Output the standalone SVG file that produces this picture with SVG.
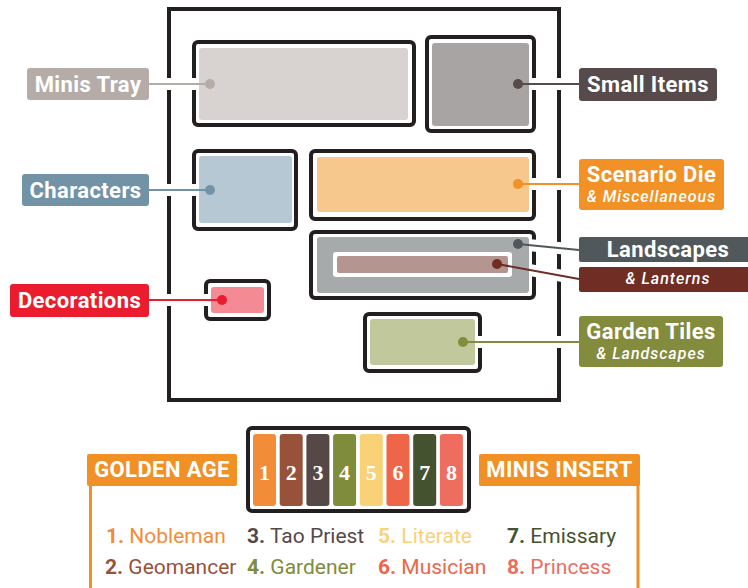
<svg xmlns="http://www.w3.org/2000/svg" width="748" height="588" viewBox="0 0 748 588">
<style>
.frame{fill:none;stroke:#231f20;stroke-width:4}
.box{fill:#fff;stroke:#231f20;stroke-width:4}
.halo{stroke:#fff;stroke-width:12;fill:none}
.lbl{font-family:Roboto,"Liberation Sans",sans-serif;font-weight:700;fill:#fff}
.big{font-size:22px;letter-spacing:0.4px}
.sub{font-size:16px;font-style:italic;font-weight:500;letter-spacing:1px}
.num{font-family:"Liberation Serif",serif;font-weight:700;font-size:22px;fill:#fff;text-anchor:middle}
.leg{font-family:Roboto,"Liberation Sans",sans-serif;font-size:21px}
.leg .b{font-weight:700}
</style>
<rect width="748" height="588" fill="#fff"/>
<rect class="frame" x="169" y="9" width="390" height="391"/>
<g id="box-borders">
<rect class="box" x="194" y="42" width="220" height="83" rx="4"/>
<rect class="box" x="427" y="37" width="107" height="94" rx="4"/>
<rect class="box" x="194" y="151" width="102" height="78" rx="4"/>
<rect class="box" x="311" y="151" width="223" height="68" rx="4"/>
<rect class="box" x="311" y="232" width="223" height="66" rx="4"/>
<rect class="box" x="206" y="281" width="63" height="38" rx="4"/>
<rect class="box" x="365" y="314" width="115" height="57" rx="4"/>
</g>
<g id="halos">
<line class="halo" x1="149" y1="84" x2="210" y2="84"/>
<line class="halo" x1="149" y1="190" x2="210" y2="190"/>
<line class="halo" x1="149" y1="300" x2="222" y2="300"/>
<line class="halo" x1="518" y1="84" x2="579" y2="84"/>
<line class="halo" x1="518" y1="184" x2="579" y2="184"/>
<line class="halo" x1="518" y1="244" x2="579" y2="250"/>
<line class="halo" x1="497" y1="264" x2="579" y2="279"/>
<line class="halo" x1="463" y1="342" x2="579" y2="342"/>
</g>
<g id="minis-tray">
<rect x="199" y="48" width="209" height="72" rx="3" fill="#d8d3d1"/>
<rect x="27" y="68" width="122" height="32" rx="3" fill="#b5aca8"/>
<text class="lbl big" x="88" y="92" text-anchor="middle">Minis Tray</text>
</g>
<g id="small-items">
<rect x="432" y="43" width="97" height="83" rx="3" fill="#a9a4a4"/>
<rect x="579" y="68" width="138" height="33" rx="3" fill="#574a4a"/>
<text class="lbl big" x="648" y="92" text-anchor="middle">Small Items</text>
</g>
<g id="characters">
<rect x="199" y="156" width="93" height="67" rx="3" fill="#b6c8d3"/>
<rect x="22" y="174" width="127" height="32" rx="3" fill="#7292a5"/>
<text class="lbl big" x="85.5" y="198" text-anchor="middle">Characters</text>
</g>
<g id="scenario-die">
<rect x="317" y="157" width="212" height="55" rx="3" fill="#f6c88e"/>
<rect x="579" y="159" width="145" height="51" rx="3" fill="#f19126"/>
<text class="lbl big" x="651.5" y="182" text-anchor="middle">Scenario Die</text>
<text class="lbl sub" x="651.5" y="202" text-anchor="middle">&amp; Miscellaneous</text>
</g>
<g id="landscapes">
<rect x="317" y="237" width="212" height="56" rx="3" fill="#a6aaab"/>
<rect x="579" y="237" width="175" height="25" rx="2" fill="#51585b"/>
<text class="lbl big" x="668" y="257" text-anchor="middle">Landscapes</text>
</g>
<g id="lanterns">
<rect x="333" y="252" width="179" height="25" rx="3" fill="#fff"/>
<rect x="337" y="256" width="171" height="17" rx="2" fill="#b5958f"/>
<rect x="579" y="267" width="175" height="25" rx="2" fill="#6f2d23"/>
<text class="lbl sub" x="668" y="284" text-anchor="middle">&amp; Lanterns</text>
</g>
<g id="decorations">
<rect x="211" y="287" width="53" height="26" rx="3" fill="#f48a94"/>
<rect x="10" y="284" width="139" height="33" rx="3" fill="#ea1c2d"/>
<text class="lbl big" x="79.5" y="308" text-anchor="middle">Decorations</text>
</g>
<g id="garden-tiles">
<rect x="370" y="319" width="105" height="46" rx="3" fill="#c1c89c"/>
<rect x="579" y="316" width="144" height="51" rx="3" fill="#838b3c"/>
<text class="lbl big" x="651" y="339" text-anchor="middle">Garden Tiles</text>
<text class="lbl sub" x="651" y="359" text-anchor="middle">&amp; Landscapes</text>
</g>
<g id="connectors" stroke-width="2" fill="none">
<line x1="149" y1="84" x2="210" y2="84" stroke="#b5aca8"/>
<circle cx="210" cy="84" r="5" fill="#b5aca8" stroke="none"/>
<line x1="149" y1="190" x2="210" y2="190" stroke="#7292a5"/>
<circle cx="210" cy="190" r="5" fill="#7292a5" stroke="none"/>
<line x1="149" y1="300" x2="222" y2="300" stroke="#ea1c2d"/>
<circle cx="222" cy="300" r="5" fill="#ea1c2d" stroke="none"/>
<line x1="518" y1="84" x2="579" y2="84" stroke="#574a4a"/>
<circle cx="518" cy="84" r="5" fill="#574a4a" stroke="none"/>
<line x1="518" y1="184" x2="579" y2="184" stroke="#f19126"/>
<circle cx="518" cy="184" r="5" fill="#f19126" stroke="none"/>
<line x1="518" y1="244" x2="579" y2="250" stroke="#51585b"/>
<circle cx="518" cy="244" r="5" fill="#51585b" stroke="none"/>
<line x1="497" y1="264" x2="579" y2="279" stroke="#6f2d23"/>
<circle cx="497" cy="264" r="5" fill="#6f2d23" stroke="none"/>
<line x1="463" y1="342" x2="579" y2="342" stroke="#838b3c"/>
<circle cx="463" cy="342" r="5" fill="#838b3c" stroke="none"/>
</g>
<g id="minis-insert-box">
<rect class="box" x="248" y="428" width="221" height="83" rx="4"/>
<rect x="253" y="434" width="23" height="72" rx="3" fill="#f28c38"/>
<rect x="279.7" y="434" width="23" height="72" rx="3" fill="#98523a"/>
<rect x="306.4" y="434" width="23" height="72" rx="3" fill="#574848"/>
<rect x="333.1" y="434" width="23" height="72" rx="3" fill="#7f8c3c"/>
<rect x="359.8" y="434" width="23" height="72" rx="3" fill="#f9d277"/>
<rect x="386.5" y="434" width="23" height="72" rx="3" fill="#ef6548"/>
<rect x="413.2" y="434" width="23" height="72" rx="3" fill="#445230"/>
<rect x="439.9" y="434" width="23" height="72" rx="3" fill="#ee6d5e"/>
<text class="num" x="264.5" y="480">1</text>
<text class="num" x="291.2" y="480">2</text>
<text class="num" x="317.9" y="480">3</text>
<text class="num" x="344.6" y="480">4</text>
<text class="num" x="371.3" y="480">5</text>
<text class="num" x="398" y="480">6</text>
<text class="num" x="424.7" y="480">7</text>
<text class="num" x="451.4" y="480">8</text>
</g>
<g id="golden-age">
<line x1="90.5" y1="484" x2="90.5" y2="588" stroke="#f09025" stroke-width="3"/>
<rect x="87" y="454" width="150" height="32" rx="2" fill="#f09025"/>
<text class="lbl big" x="162" y="477" text-anchor="middle">GOLDEN AGE</text>
</g>
<g id="minis-insert">
<line x1="638" y1="484" x2="638" y2="588" stroke="#f09025" stroke-width="3"/>
<rect x="479" y="454" width="161" height="32" rx="2" fill="#f09025"/>
<text class="lbl big" x="559.5" y="477" text-anchor="middle">MINIS INSERT</text>
</g>
<g id="legend" class="leg">
<text x="106" y="543" fill="#f28c38"><tspan class="b">1.</tspan> Nobleman</text>
<text x="105" y="574" fill="#98523a"><tspan class="b">2.</tspan> Geomancer</text>
<text x="247" y="543" fill="#574848"><tspan class="b">3.</tspan> Tao Priest</text>
<text x="247" y="574" fill="#7f8c3c"><tspan class="b">4.</tspan> Gardener</text>
<text x="378" y="543" fill="#f9d277"><tspan class="b">5.</tspan> Literate</text>
<text x="378" y="574" fill="#ef6548"><tspan class="b">6.</tspan> Musician</text>
<text x="507" y="543" fill="#445230"><tspan class="b">7.</tspan> Emissary</text>
<text x="507" y="574" fill="#ee6d5e"><tspan class="b">8.</tspan> Princess</text>
</g>
</svg>
